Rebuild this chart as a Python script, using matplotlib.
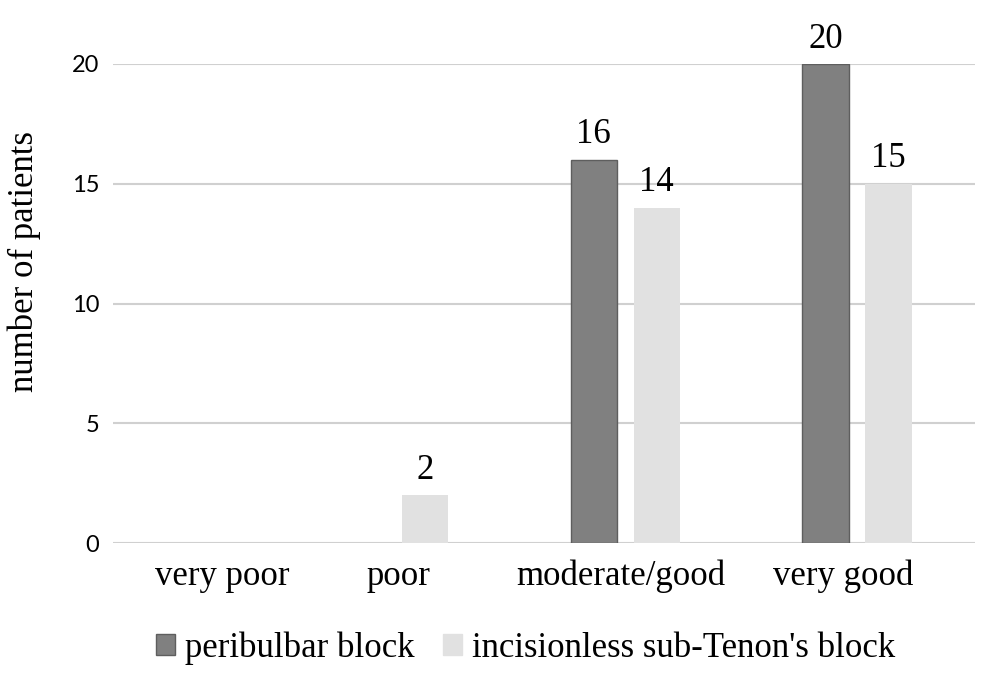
import numpy as np
import matplotlib
matplotlib.use('Agg')
import matplotlib.pyplot as plt
from matplotlib.patches import Patch

# Data
categories = ['very poor', 'poor', 'moderate/good', 'very good']
peribulbar = [0, 0, 16, 20]
sub_tenon = [0, 2, 14, 15]
series_names = ['peribulbar block', "incisionless sub-Tenon's block"]

serif = ['Liberation Serif', 'DejaVu Serif']
fs = 25
dark, dark_edge, light = '#808080', '#5e5e5e', '#e1e1e1'

fig = plt.figure(figsize=(9.92, 6.73), dpi=100)
ax = fig.add_axes([0.114, 0.193, 0.869, 0.712])

x = np.arange(len(categories))
bar_width = 0.2
offset = 0.136

bars1 = ax.bar(x - offset, peribulbar, bar_width, color=dark,
               edgecolor=dark_edge, linewidth=1, zorder=3)
bars2 = ax.bar(x + offset, sub_tenon, bar_width, color=light,
               linewidth=0, zorder=3)

# value labels, only for non-zero bars; empty bars get no outline
for bars, vals in ((bars1, peribulbar), (bars2, sub_tenon)):
    for b, v in zip(bars, vals):
        if v > 0:
            ax.text(b.get_x() + b.get_width() / 2, v + 0.35, str(v),
                    ha='center', va='bottom', fontsize=fs, family=serif,
                    clip_on=False)
        else:
            b.set_linewidth(0)

ax.set_xlim(-0.21, 3.51)
ax.set_ylim(0, 20)
ax.set_yticks([0, 5, 10, 15, 20])
# the category labels in the original sit a little off the group centres
label_shift = np.array([0.26, 0.02, -0.017, -0.06])
ax.set_xticks(x + label_shift)
ax.set_xticklabels(categories, fontsize=fs, family=serif)
for lbl in ax.get_yticklabels():
    lbl.set_family(['Lato', 'DejaVu Sans'])
    lbl.set_fontsize(17)
ax.tick_params(axis='both', length=0)
ax.tick_params(axis='y', pad=10)
ax.tick_params(axis='x', pad=12)

ax.set_ylabel('number of patients', fontsize=fs, family=serif)
ax.yaxis.set_label_coords(-0.084, 0.587)

ax.grid(True, axis='y', color='#d0d0d0', linewidth=1.5)
ax.set_axisbelow(True)
for s in ax.spines.values():
    s.set_visible(False)

handles = [Patch(facecolor=dark, edgecolor=dark_edge, linewidth=1),
           Patch(facecolor=light, edgecolor=light, linewidth=1)]
fig.legend(handles=handles, labels=series_names, loc='center',
           bbox_to_anchor=(0.53, 0.037), ncol=2, frameon=False,
           prop={'family': serif, 'size': fs}, handlelength=0.55,
           handleheight=0.55, handletextpad=0.3, columnspacing=0.8)

plt.savefig('out.png', dpi=100)
plt.close()
